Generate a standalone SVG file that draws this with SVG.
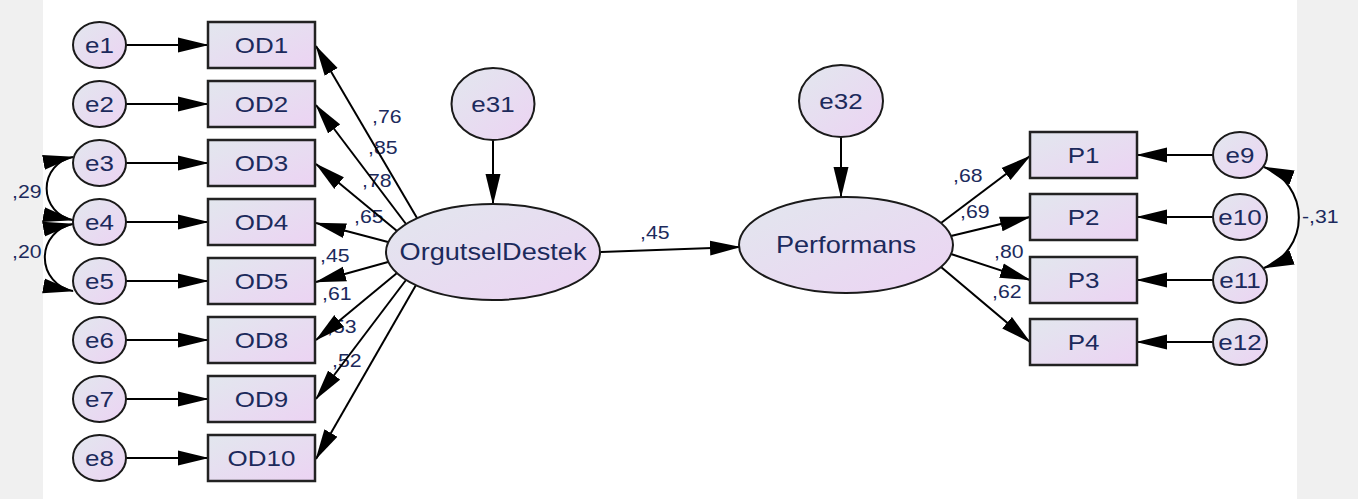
<svg xmlns="http://www.w3.org/2000/svg" width="1358" height="499" viewBox="0 0 1358 499">
<defs>
<linearGradient id="g" x1="0" y1="0" x2="1" y2="1"><stop offset="0" stop-color="#e2e7ee"/><stop offset="1" stop-color="#ecd3f3"/></linearGradient>
<marker id="ah" markerUnits="userSpaceOnUse" markerWidth="32" markerHeight="16" refX="30" refY="8" orient="auto-start-reverse" viewBox="0 0 32 16"><path d="M0,0.5 L31,8 L0,15.5 z" fill="#000"/></marker>
</defs>
<style>
.bg{fill:#f0f0f0}
.box{fill:url(#g);stroke:#222;stroke-width:2.5}
.el{fill:url(#g);stroke:#1a1a1a;stroke-width:2}
.t{font-family:"Liberation Sans",Arial,sans-serif;font-size:22px;fill:#1c2a5c;text-anchor:middle}
.lt{font-size:23px}
.lb{font-family:"Liberation Sans",Arial,sans-serif;font-size:18px;fill:#1c2a5c}
.c{stroke:#000;stroke-width:2;fill:none;marker-end:url(#ah)}
.cv{stroke:#000;stroke-width:2;fill:none;marker-start:url(#ah);marker-end:url(#ah)}
</style>
<rect x="0" y="0" width="1358" height="499" fill="#fff"/>
<rect class="bg" x="0" y="0" width="43" height="499"/>
<rect class="bg" x="1297" y="0" width="61" height="499"/>

<g id="labels">
<text class="lb" transform="translate(372 123) scale(1.18 1)">,76</text>
<text class="lb" transform="translate(368 154) scale(1.18 1)">,85</text>
<text class="lb" transform="translate(362 187) scale(1.18 1)">,78</text>
<text class="lb" transform="translate(354 223) scale(1.18 1)">,65</text>
<text class="lb" transform="translate(320 262) scale(1.18 1)">,45</text>
<text class="lb" transform="translate(322 300) scale(1.18 1)">,61</text>
<text class="lb" transform="translate(327 333) scale(1.18 1)">,53</text>
<text class="lb" transform="translate(332 367) scale(1.18 1)">,52</text>
<text class="lb" transform="translate(12 198) scale(1.18 1)">,29</text>
<text class="lb" transform="translate(12 258) scale(1.18 1)">,20</text>
<text class="lb" transform="translate(640 239) scale(1.18 1)">,45</text>
<text class="lb" transform="translate(953 182) scale(1.18 1)">,68</text>
<text class="lb" transform="translate(960 218) scale(1.18 1)">,69</text>
<text class="lb" transform="translate(994 258) scale(1.18 1)">,80</text>
<text class="lb" transform="translate(992 298) scale(1.18 1)">,62</text>
<text class="lb" transform="translate(1302 223) scale(1.18 1)">-,31</text>
</g>

<g id="connectors">
<line class="c" x1="126" y1="45" x2="208" y2="45"/>
<line class="c" x1="126" y1="104" x2="208" y2="104"/>
<line class="c" x1="126" y1="163" x2="208" y2="163"/>
<line class="c" x1="126" y1="222" x2="208" y2="222"/>
<line class="c" x1="126" y1="281" x2="208" y2="281"/>
<line class="c" x1="126" y1="340" x2="208" y2="340"/>
<line class="c" x1="126" y1="399" x2="208" y2="399"/>
<line class="c" x1="126" y1="458" x2="208" y2="458"/>
<line class="c" x1="417" y1="218" x2="316" y2="46"/>
<line class="c" x1="406" y1="224" x2="316" y2="105"/>
<line class="c" x1="397" y1="231" x2="316" y2="164"/>
<line class="c" x1="388" y1="242" x2="316" y2="223"/>
<line class="c" x1="388" y1="262" x2="316" y2="282"/>
<line class="c" x1="397" y1="273" x2="316" y2="340"/>
<line class="c" x1="406" y1="280" x2="316" y2="399"/>
<line class="c" x1="416" y1="285" x2="316" y2="459"/>
<line class="c" x1="493" y1="140" x2="493" y2="204"/>
<line class="c" x1="841" y1="137" x2="841" y2="197"/>
<line class="c" x1="601" y1="252" x2="740" y2="247"/>
<line class="c" x1="941" y1="223" x2="1030" y2="156"/>
<line class="c" x1="951" y1="236" x2="1030" y2="217"/>
<line class="c" x1="951" y1="254" x2="1030" y2="280"/>
<line class="c" x1="941" y1="267" x2="1030" y2="342"/>
<line class="c" x1="1213" y1="155" x2="1137" y2="155"/>
<line class="c" x1="1213" y1="217" x2="1137" y2="217"/>
<line class="c" x1="1213" y1="280" x2="1137" y2="280"/>
<line class="c" x1="1213" y1="342" x2="1137" y2="342"/>
<path class="cv" d="M73,157 A32,32 0 0 0 73,220"/>
<path class="cv" d="M73,224 A34,34 0 0 0 73,291"/>
<path class="cv" d="M1264,167 A54,54 0 0 1 1264,268"/>
</g>

<g id="e1"><ellipse class="el" cx="99.5" cy="45" rx="26.5" ry="23"/><text class="t" transform="translate(99.5 53) scale(1.18 1)">e1</text></g>
<g id="e2"><ellipse class="el" cx="99.5" cy="104" rx="26.5" ry="23"/><text class="t" transform="translate(99.5 112) scale(1.18 1)">e2</text></g>
<g id="e3"><ellipse class="el" cx="99.5" cy="163" rx="26.5" ry="23"/><text class="t" transform="translate(99.5 171) scale(1.18 1)">e3</text></g>
<g id="e4"><ellipse class="el" cx="99.5" cy="222" rx="26.5" ry="23"/><text class="t" transform="translate(99.5 230) scale(1.18 1)">e4</text></g>
<g id="e5"><ellipse class="el" cx="99.5" cy="281" rx="26.5" ry="23"/><text class="t" transform="translate(99.5 289) scale(1.18 1)">e5</text></g>
<g id="e6"><ellipse class="el" cx="99.5" cy="340" rx="26.5" ry="23"/><text class="t" transform="translate(99.5 348) scale(1.18 1)">e6</text></g>
<g id="e7"><ellipse class="el" cx="99.5" cy="399" rx="26.5" ry="23"/><text class="t" transform="translate(99.5 407) scale(1.18 1)">e7</text></g>
<g id="e8"><ellipse class="el" cx="99.5" cy="458" rx="26.5" ry="23"/><text class="t" transform="translate(99.5 466) scale(1.18 1)">e8</text></g>

<g id="OD1"><rect class="box" x="208" y="22" width="107" height="46"/><text class="t" transform="translate(261.5 53) scale(1.18 1)">OD1</text></g>
<g id="OD2"><rect class="box" x="208" y="81" width="107" height="46"/><text class="t" transform="translate(261.5 112) scale(1.18 1)">OD2</text></g>
<g id="OD3"><rect class="box" x="208" y="140" width="107" height="46"/><text class="t" transform="translate(261.5 171) scale(1.18 1)">OD3</text></g>
<g id="OD4"><rect class="box" x="208" y="199" width="107" height="46"/><text class="t" transform="translate(261.5 230) scale(1.18 1)">OD4</text></g>
<g id="OD5"><rect class="box" x="208" y="258" width="107" height="46"/><text class="t" transform="translate(261.5 289) scale(1.18 1)">OD5</text></g>
<g id="OD8"><rect class="box" x="208" y="317" width="107" height="46"/><text class="t" transform="translate(261.5 348) scale(1.18 1)">OD8</text></g>
<g id="OD9"><rect class="box" x="208" y="376" width="107" height="46"/><text class="t" transform="translate(261.5 407) scale(1.18 1)">OD9</text></g>
<g id="OD10"><rect class="box" x="208" y="435" width="107" height="46"/><text class="t" transform="translate(261.5 466) scale(1.18 1)">OD10</text></g>

<g id="e31"><ellipse class="el" cx="493" cy="104" rx="41.5" ry="36"/><text class="t" transform="translate(493 112) scale(1.18 1)">e31</text></g>
<g id="OrgutselDestek"><ellipse class="el" cx="493" cy="252" rx="107" ry="48"/><text class="t lt" transform="translate(493 260) scale(1.18 1)">OrgutselDestek</text></g>
<g id="e32"><ellipse class="el" cx="841" cy="101" rx="42" ry="36"/><text class="t" transform="translate(841 109) scale(1.18 1)">e32</text></g>
<g id="Performans"><ellipse class="el" cx="846" cy="245" rx="107" ry="48"/><text class="t lt" transform="translate(846 253) scale(1.18 1)">Performans</text></g>

<g id="P1"><rect class="box" x="1030" y="132" width="107" height="46"/><text class="t" transform="translate(1083.5 163) scale(1.18 1)">P1</text></g>
<g id="P2"><rect class="box" x="1030" y="194" width="107" height="46"/><text class="t" transform="translate(1083.5 225) scale(1.18 1)">P2</text></g>
<g id="P3"><rect class="box" x="1030" y="257" width="107" height="46"/><text class="t" transform="translate(1083.5 288) scale(1.18 1)">P3</text></g>
<g id="P4"><rect class="box" x="1030" y="319" width="107" height="46"/><text class="t" transform="translate(1083.5 350) scale(1.18 1)">P4</text></g>

<g id="e9"><ellipse class="el" cx="1240" cy="155" rx="27" ry="23"/><text class="t" transform="translate(1240 163) scale(1.18 1)">e9</text></g>
<g id="e10"><ellipse class="el" cx="1240" cy="217" rx="27" ry="23"/><text class="t" transform="translate(1240 225) scale(1.18 1)">e10</text></g>
<g id="e11"><ellipse class="el" cx="1240" cy="280" rx="27" ry="23"/><text class="t" transform="translate(1240 288) scale(1.18 1)">e11</text></g>
<g id="e12"><ellipse class="el" cx="1240" cy="342" rx="27" ry="23"/><text class="t" transform="translate(1240 350) scale(1.18 1)">e12</text></g>
</svg>
